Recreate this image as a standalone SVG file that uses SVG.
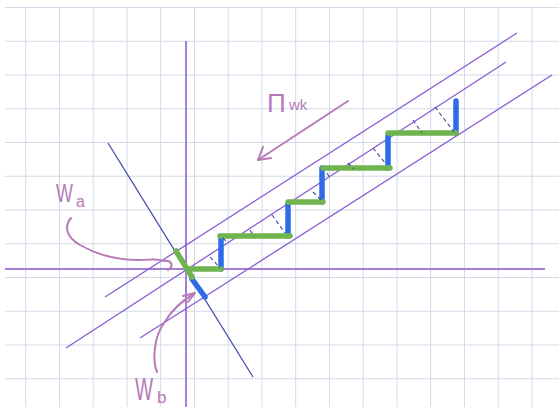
<svg xmlns="http://www.w3.org/2000/svg" width="559" height="407" viewBox="0 0 559 407">
<style>
.grid line{stroke:#d3dae8;stroke-width:1}
.axis{stroke:#a57ed8;stroke-width:2;fill:none}
.diag{stroke:#8a5cd4;stroke-width:1.3;fill:none}
.normal{stroke:#4650ac;stroke-width:1.3;fill:none}
.green{stroke:#70b450;stroke-width:5.5;stroke-linecap:round;fill:none}
.blue{stroke:#2f6be8;stroke-width:5.5;stroke-linecap:round;fill:none}
.dash{stroke:#3f4a9c;stroke-width:1.1;stroke-dasharray:4 3;fill:none}
.ink{stroke:#b67ab6;stroke-width:2;fill:none;stroke-linecap:round;stroke-linejoin:round}
.lbl{fill:#b67ab6;font-family:"Liberation Sans",Arial,sans-serif}
</style>
<rect width="559" height="407" fill="#ffffff"/>
<g class="grid">
<line x1="5" y1="7.5" x2="559" y2="7.5"/>
<line x1="5" y1="41.25" x2="559" y2="41.25"/>
<line x1="5" y1="75" x2="559" y2="75"/>
<line x1="5" y1="108.75" x2="559" y2="108.75"/>
<line x1="5" y1="142.5" x2="559" y2="142.5"/>
<line x1="5" y1="176.25" x2="559" y2="176.25"/>
<line x1="5" y1="210" x2="559" y2="210"/>
<line x1="5" y1="243.75" x2="559" y2="243.75"/>
<line x1="5" y1="277.5" x2="559" y2="277.5"/>
<line x1="5" y1="311.25" x2="559" y2="311.25"/>
<line x1="5" y1="345" x2="559" y2="345"/>
<line x1="5" y1="378.75" x2="559" y2="378.75"/>
<line x1="25.7" y1="7.5" x2="25.7" y2="407"/>
<line x1="59.4" y1="7.5" x2="59.4" y2="407"/>
<line x1="93.2" y1="7.5" x2="93.2" y2="407"/>
<line x1="127" y1="7.5" x2="127" y2="407"/>
<line x1="160.7" y1="7.5" x2="160.7" y2="407"/>
<line x1="194.5" y1="7.5" x2="194.5" y2="407"/>
<line x1="228.2" y1="7.5" x2="228.2" y2="407"/>
<line x1="262" y1="7.5" x2="262" y2="407"/>
<line x1="295.7" y1="7.5" x2="295.7" y2="407"/>
<line x1="329.5" y1="7.5" x2="329.5" y2="407"/>
<line x1="363.2" y1="7.5" x2="363.2" y2="407"/>
<line x1="397" y1="7.5" x2="397" y2="407"/>
<line x1="430.7" y1="7.5" x2="430.7" y2="407"/>
<line x1="464.5" y1="7.5" x2="464.5" y2="407"/>
<line x1="498.2" y1="7.5" x2="498.2" y2="407"/>
<line x1="532" y1="7.5" x2="532" y2="407"/>
</g>
<g id="axes">
<line class="axis" x1="5" y1="269" x2="545" y2="269"/>
<line class="axis" x1="186" y1="41" x2="186" y2="407"/>
</g>
<g id="band-lines">
<line class="diag" x1="105" y1="297" x2="517" y2="33"/>
<line class="diag" x1="66" y1="348" x2="506" y2="62"/>
<line class="diag" x1="140" y1="338" x2="552" y2="75"/>
<line class="normal" x1="108" y1="143" x2="253" y2="377"/>
</g>
<g id="staircase">
<path class="blue" d="M192,279 L205,297"/>
<path class="blue" d="M221,269 V237"/>
<path class="blue" d="M288,236 V204"/>
<path class="blue" d="M322,202 V168"/>
<path class="blue" d="M388,168 V136"/>
<path class="blue" d="M456,133 V101"/>
<path class="green" d="M176,251 L192,277"/>
<path class="green" d="M188,269 H221"/>
<path class="green" d="M220,236 H290"/>
<path class="green" d="M288,202 H323"/>
<path class="green" d="M323,168 H390"/>
<path class="green" d="M388,133 H456"/>
</g>
<g id="projections">
<line class="dash" x1="210" y1="257" x2="220" y2="268"/>
<line class="dash" x1="223" y1="238" x2="228" y2="243"/>
<line class="dash" x1="250" y1="230" x2="254" y2="236"/>
<line class="dash" x1="272" y1="215" x2="285" y2="233"/>
<line class="dash" x1="313" y1="192" x2="322" y2="201"/>
<line class="dash" x1="327" y1="173" x2="330" y2="178"/>
<line class="dash" x1="348" y1="163" x2="354" y2="169"/>
<line class="dash" x1="373" y1="148" x2="386" y2="164"/>
<line class="dash" x1="413" y1="120" x2="422" y2="133"/>
<line class="dash" x1="435" y1="107" x2="454" y2="132"/>
</g>
<g id="label-wa">
<text class="lbl" transform="translate(56,202) scale(0.69,1)" font-size="26">W</text>
<text class="lbl" x="76" y="207" font-size="16">a</text>
<path class="ink" d="M71,218 C64,226 66,237 80,245 C96,254 115,260 138,260 C150,260 158,258 164,261 C172,260 174,266 168,270"/>
</g>
<g id="label-wb">
<text class="lbl" transform="translate(135,400) scale(0.6,1)" font-size="32">W</text>
<text class="lbl" x="157" y="403" font-size="17">b</text>
<path class="ink" d="M157,372 C152,360 154,337 164,323 C172,310 181,301 194,294"/>
<path class="ink" d="M183,296 L195,293 L188,302"/>
</g>
<g id="label-pi">
<text class="lbl" x="267" y="112" font-size="26">Π<tspan x="289" y="110" font-size="15">wk</tspan></text>
<path class="ink" d="M348,101 L258,160"/>
<path class="ink" d="M263,147 L258,160 L271,158"/>
</g>
</svg>
